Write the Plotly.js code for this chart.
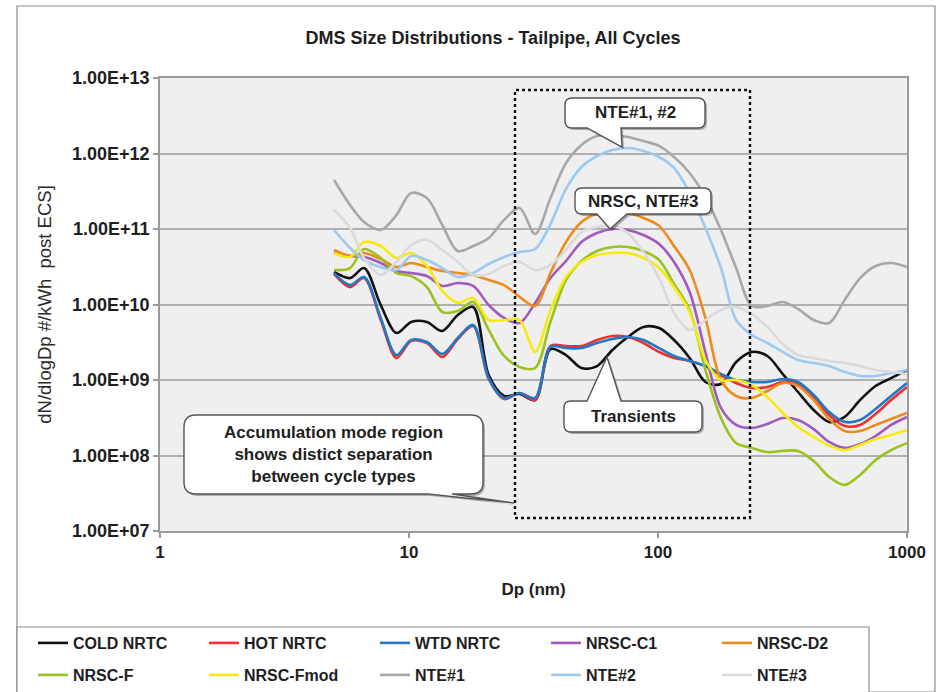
<!DOCTYPE html>
<html>
<head>
<meta charset="utf-8">
<script src="https://cdn.plot.ly/plotly-3.0.1.min.js"></script>
<style>
  html, body { margin: 0; padding: 0; background: #ffffff; }
  #chart { width: 951px; height: 692px; }
</style>
</head>
<body>
<div id="chart"></div>
<script>
// Particle diameter bins (nm), 16 channels per decade
const diameters = [5.0, 5.8, 6.6, 7.7, 8.9, 10.2, 11.8, 13.6, 15.7, 18.1, 20.9, 24.1, 27.8, 32.1, 37.0, 42.7,
  49.3, 56.9, 65.6, 75.7, 87.4, 101, 116, 134, 155, 179, 206, 238, 275, 317, 365, 422, 487, 562, 648, 748, 863, 1000];

// dN/dlogDp (#/kWh, post ECS) per cycle
const coldNrtc = [2.7e10, 2.24e10, 3.04e10, 9.85e9, 4.19e9, 5.87e9, 5.87e9, 4.46e9, 7.26e9, 9.27e9, 1.16e9, 6.14e8, 6.53e8,
  5.43e8, 2.57e9, 2.14e9, 1.44e9, 1.53e9, 2.5e9, 3.71e9, 5.04e9, 4.88e9, 3.39e9, 1.96e9, 9.41e8, 8.85e8, 1.73e9, 2.35e9,
  2.08e9, 1.2e9, 6.94e8, 4.0e8, 2.78e8, 3.24e8, 5.43e8, 8.33e8, 1.06e9, 1.36e9];
const hotNrtc = [2.54e10, 1.7e10, 2.24e10, 6.23e9, 1.96e9, 3.29e9, 3.09e9, 2.02e9, 3.49e9, 5.19e9, 1.03e9, 5.6e8, 6.73e8,
  5.43e8, 2.82e9, 2.82e9, 2.82e9, 3.39e9, 3.83e9, 3.71e9, 3.09e9, 2.35e9, 1.96e9, 1.79e9, 1.53e9, 1.16e9, 9.13e8, 7.83e8,
  8.08e8, 9.41e8, 8.85e8, 5.78e8, 3.44e8, 2.46e8, 2.54e8, 3.55e8, 5.43e8, 8.08e8];
const wtdNrtc = [2.61e10, 1.81e10, 2.31e10, 6.63e9, 2.14e9, 3.39e9, 3.19e9, 2.21e9, 3.6e9, 5.35e9, 1.06e9, 5.78e8, 6.73e8,
  5.78e8, 2.74e9, 2.65e9, 2.65e9, 3.09e9, 3.49e9, 3.71e9, 3.39e9, 2.65e9, 2.08e9, 1.79e9, 1.53e9, 1.2e9, 1.0e9, 9.41e8,
  9.41e8, 1.03e9, 9.41e8, 6.33e8, 3.77e8, 2.78e8, 2.95e8, 4.13e8, 6.14e8, 9.13e8];
const nrscC1 = [4.96e10, 4.39e10, 4.26e10, 3.55e10, 2.78e10, 2.61e10, 2.38e10, 1.76e10, 1.93e10, 1.76e10, 9.85e9, 6.63e9,
  5.69e9, 1.05e10, 2.24e10, 3.77e10, 6.73e10, 8.85e10, 1.0e11, 9.7e10, 8.33e10, 6.33e10, 3.66e10, 1.46e10, 2.35e9, 4.26e8,
  2.54e8, 2.31e8, 2.61e8, 3.14e8, 2.95e8, 2.24e8, 1.51e8, 1.26e8, 1.42e8, 1.81e8, 2.54e8, 3.24e8];
const nrscD2 = [5.27e10, 4.39e10, 4.81e10, 4.0e10, 3.14e10, 3.55e10, 3.14e10, 2.78e10, 2.61e10, 2.46e10, 2.11e10, 1.81e10,
  1.26e10, 9.55e9, 2.61e10, 6.73e10, 1.24e11, 1.58e11, 1.63e11, 1.63e11, 1.4e11, 1.1e11, 5.95e10, 2.86e10, 6.63e9, 1.0e9,
  6.14e8, 5.78e8, 7.15e8, 9.13e8, 8.33e8, 5.43e8, 3.04e8, 2.11e8, 2.11e8, 2.54e8, 3.04e8, 3.66e8];
const nrscF = [2.86e10, 3.04e10, 5.43e10, 4.13e10, 2.61e10, 2.38e10, 1.7e10, 7.96e9, 8.2e9, 1.08e10, 4.6e9, 2.08e9, 1.49e9,
  1.44e9, 5.87e9, 2.11e10, 3.77e10, 5.11e10, 5.78e10, 5.78e10, 5.11e10, 3.88e10, 1.87e10, 8.46e9, 1.36e9, 3.14e8, 1.46e8,
  1.26e8, 1.11e8, 1.15e8, 1.15e8, 8.46e7, 5.19e7, 4.07e7, 5.52e7, 8.72e7, 1.18e8, 1.46e8];
const nrscFmod = [4.81e10, 4.26e10, 6.73e10, 5.95e10, 4.13e10, 4.81e10, 3.24e10, 1.51e10, 1.05e10, 1.22e10, 6.23e9, 6.23e9,
  6.23e9, 2.35e9, 8.46e9, 2.31e10, 3.66e10, 4.52e10, 4.81e10, 4.81e10, 4.13e10, 3.04e10, 1.7e10, 7.96e9, 1.84e9, 1.0e9,
  1.0e9, 8.59e8, 5.95e8, 3.66e8, 2.38e8, 1.76e8, 1.34e8, 1.18e8, 1.38e8, 1.65e8, 1.87e8, 2.18e8];
const nte1 = [4.46e11, 2.08e11, 1.24e11, 9.7e10, 1.53e11, 3.0e11, 2.57e11, 1.13e11, 5.11e10, 5.95e10, 7.6e10, 1.32e11,
  1.9e11, 8.59e10, 2.57e11, 7.48e11, 1.3e12, 1.7e12, 1.76e12, 1.65e12, 1.46e12, 1.26e12, 8.99e11, 5.52e11, 2.65e11, 9.7e10,
  3.04e10, 9.55e9, 9.55e9, 1.08e10, 8.72e9, 6.23e9, 5.69e9, 1.15e10, 2.24e10, 3.24e10, 3.55e10, 3.14e10];
const nte2 = [9.7e10, 5.6e10, 3.88e10, 3.14e10, 2.86e10, 4.39e10, 3.88e10, 3.04e10, 2.31e10, 2.61e10, 3.44e10, 4.26e10,
  4.96e10, 5.43e10, 1.16e11, 3.39e11, 6.63e11, 9.27e11, 1.11e12, 1.18e12, 1.08e12, 8.99e11, 6.43e11, 3.0e11, 1.03e11, 3.04e10,
  6.23e9, 3.94e9, 3.09e9, 2.35e9, 1.84e9, 1.68e9, 1.53e9, 1.28e9, 1.13e9, 1.13e9, 1.24e9, 1.36e9];
const nte3 = [1.79e11, 1.03e11, 4.13e10, 2.46e10, 3.66e10, 6.14e10, 7.15e10, 5.27e10, 3.66e10, 2.46e10, 2.54e10, 3.24e10,
  3.66e10, 2.86e10, 3.34e10, 5.27e10, 9.13e10, 1.06e11, 1.1e11, 8.85e10, 4.96e10, 2.24e10, 7.72e9, 4.6e9, 6.23e9, 8.46e9,
  9.27e9, 7.48e9, 5.04e9, 3.0e9, 2.14e9, 1.96e9, 1.79e9, 1.68e9, 1.53e9, 1.36e9, 1.28e9, 1.2e9];

const seriesNames = ['COLD NRTC', 'HOT NRTC', 'WTD NRTC', 'NRSC-C1', 'NRSC-D2',
  'NRSC-F', 'NRSC-Fmod', 'NTE#1', 'NTE#2', 'NTE#3'];
const seriesValues = [coldNrtc, hotNrtc, wtdNrtc, nrscC1, nrscD2, nrscF, nrscFmod, nte1, nte2, nte3];
const seriesColors = ['#111111', '#f03030', '#1f78c8', '#a05ac0', '#ef8a1c',
  '#9bc21e', '#f7ea10', '#a8a8a8', '#9cc9f2', '#dadada'];

const xTickVals = [1, 10, 100, 1000];
const xTickText = ['1', '10', '100', '1000'];
const yTickVals = [1e7, 1e8, 1e9, 1e10, 1e11, 1e12, 1e13];
const yTickText = ['1.00E+07', '1.00E+08', '1.00E+09', '1.00E+10', '1.00E+11', '1.00E+12', '1.00E+13'];

const FONT = 'Liberation Sans, Arial, Helvetica, sans-serif';
const TEXT = '#1e1e1e';

// Figure geometry (px); the plot area is fixed by the margins
const W = 951, H = 692;
const M = { l: 160, r: 44, t: 78, b: 161 };
const PW = W - M.l - M.r, PH = H - M.t - M.b;
const px = x => (x - M.l) / PW;
const py = y => (M.t + PH - y) / PH;

const traces = seriesNames.map((name, i) => ({
  type: 'scatter',
  mode: 'lines',
  name: name,
  x: diameters,
  y: seriesValues[i],
  line: { color: seriesColors[i], width: 2.6, shape: 'spline', smoothing: 0.9 },
  legend: i < 5 ? 'legend' : 'legend2',
  hoverinfo: 'skip'
}));

// Rounded callout with a wedge pointer on its top or bottom edge
function calloutPath(b) {
  const { x0, y0, x1, y1, r, edge, base, tip } = b;
  const P = (x, y) => px(x).toFixed(5) + ',' + py(y).toFixed(5);
  let d = 'M' + P(x0 + r, y0);
  if (edge === 'top') d += ' L' + P(base[0], y0) + ' L' + P(tip[0], tip[1]) + ' L' + P(base[1], y0);
  d += ' L' + P(x1 - r, y0) + ' Q' + P(x1, y0) + ' ' + P(x1, y0 + r);
  d += ' L' + P(x1, y1 - r) + ' Q' + P(x1, y1) + ' ' + P(x1 - r, y1);
  if (edge === 'bottom') d += ' L' + P(base[1], y1) + ' L' + P(tip[0], tip[1]) + ' L' + P(base[0], y1);
  d += ' L' + P(x0 + r, y1) + ' Q' + P(x0, y1) + ' ' + P(x0, y1 - r);
  d += ' L' + P(x0, y0 + r) + ' Q' + P(x0, y0) + ' ' + P(x0 + r, y0) + ' Z';
  return d;
}

const callouts = [
  { text: 'NTE#1, #2', x0: 565, y0: 98, x1: 705, y1: 128, r: 7, edge: 'bottom', base: [587, 621], tip: [622, 147] },
  { text: 'NRSC, NTE#3', x0: 575, y0: 188, x1: 711, y1: 214, r: 7, edge: 'bottom', base: [597, 627], tip: [610, 229] },
  { text: 'Transients', x0: 564, y0: 401, x1: 702, y1: 432, r: 7, edge: 'top', base: [587, 621], tip: [607, 357] },
  { text: 'Accumulation mode region<br>shows distict separation<br>between cycle types',
    x0: 184, y0: 415, x1: 483, y1: 494, r: 12, edge: 'bottom', base: [428, 452], tip: [514, 503] }
];

const shapes = [];
// outer chart frame
shapes.push({ type: 'rect', xref: 'paper', yref: 'paper', layer: 'below',
  x0: px(17), x1: px(935), y0: py(692), y1: py(6), line: { color: '#8c8c8c', width: 1.2 }, fillcolor: 'rgba(0,0,0,0)' });
// region of interest
shapes.push({ type: 'rect', xref: 'paper', yref: 'paper', layer: 'above',
  x0: px(515), x1: px(750), y0: py(518), y1: py(90), line: { color: '#111111', width: 2.4, dash: 'dot' } });
callouts.forEach(c => {
  const shadow = Object.assign({}, c, { x0: c.x0 + 2, x1: c.x1 + 2, y0: c.y0 + 2, y1: c.y1 + 2,
    base: [c.base[0] + 2, c.base[1] + 2], tip: [c.tip[0] + 2, c.tip[1] + 2] });
  shapes.push({ type: 'path', xref: 'paper', yref: 'paper', layer: 'above', path: calloutPath(shadow),
    fillcolor: 'rgba(0,0,0,0.28)', line: { width: 0 } });
  shapes.push({ type: 'path', xref: 'paper', yref: 'paper', layer: 'above', path: calloutPath(c),
    fillcolor: '#ffffff', line: { color: '#555555', width: 1.4 } });
});
// legend box
shapes.push({ type: 'rect', xref: 'paper', yref: 'paper', layer: 'above',
  x0: px(17), x1: px(869), y0: py(700), y1: py(627), line: { color: '#8c8c8c', width: 1.2 }, fillcolor: '#ffffff' });

const annotations = callouts.map(c => ({
  xref: 'paper', yref: 'paper', x: px((c.x0 + c.x1) / 2), y: py((c.y0 + c.y1) / 2),
  xanchor: 'center', yanchor: 'middle', showarrow: false, text: c.text, align: 'center',
  font: { family: FONT, size: 17, color: TEXT, weight: 'bold' }
}));

const legendCommon = {
  orientation: 'h', xanchor: 'left', yanchor: 'middle', x: px(33),
  bgcolor: 'rgba(0,0,0,0)', borderwidth: 0, entrywidth: 126, entrywidthmode: 'pixels',
  font: { family: FONT, size: 16, color: TEXT, weight: 'bold' }, itemclick: false, itemdoubleclick: false
};

const layout = {
  width: W, height: H,
  margin: Object.assign({ autoexpand: false, pad: 0 }, M),
  paper_bgcolor: '#ffffff',
  plot_bgcolor: '#efefef',
  font: { family: FONT, size: 17, color: TEXT },
  title: {
    text: 'DMS Size Distributions - Tailpipe, All Cycles',
    xref: 'paper', x: px(493), xanchor: 'center',
    yref: 'container', y: 1 - 38 / H, yanchor: 'middle',
    font: { family: FONT, size: 18, color: TEXT, weight: 'bold' }
  },
  xaxis: {
    type: 'log', range: [0, 3],
    tickvals: xTickVals, ticktext: xTickText,
    showgrid: false, zeroline: false,
    showline: true, linecolor: '#9a9a9a', linewidth: 1.5, mirror: true,
    ticks: 'outside', ticklen: 5, tickcolor: '#9a9a9a', tickwidth: 1.5,
    tickfont: { family: FONT, size: 17, color: TEXT, weight: 'bold' },
    title: { text: 'Dp (nm)', standoff: 22, font: { family: FONT, size: 17, color: TEXT, weight: 'bold' } }
  },
  yaxis: {
    type: 'log', range: [7, 13],
    tickvals: yTickVals, ticktext: yTickText,
    showgrid: true, gridcolor: '#b0b0b0', gridwidth: 2, zeroline: false,
    showline: true, linecolor: '#9a9a9a', linewidth: 1.5, mirror: true,
    ticks: 'outside', ticklen: 5, tickcolor: '#9a9a9a', tickwidth: 1.5,
    tickfont: { family: FONT, size: 18, color: TEXT, weight: 'bold' },
    title: { text: 'dN/dlogDp #/kWh \u00a0post ECS]', standoff: 16,
      font: { family: FONT, size: 18.5, color: '#2a2a2a' } }
  },
  legend: Object.assign({}, legendCommon, { y: py(643) }),
  legend2: Object.assign({}, legendCommon, { y: py(675) }),
  shapes: shapes,
  annotations: annotations,
  hovermode: false
};

Plotly.newPlot('chart', traces, layout, { displayModeBar: false, responsive: false });
</script>
</body>
</html>
